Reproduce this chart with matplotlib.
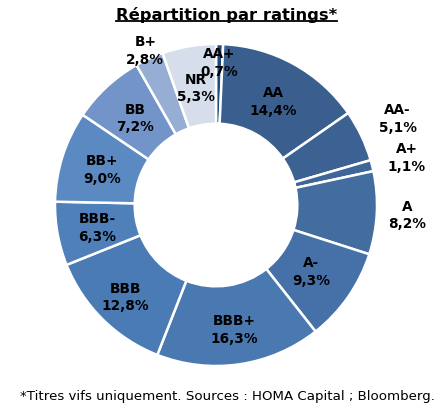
import matplotlib.pyplot as plt
import numpy as np

ratings = ['AA+', 'AA', 'AA-', 'A+', 'A', 'A-', 'BBB+', 'BBB', 'BBB-', 'BB+', 'BB', 'B+', 'NR']
shares = [0.7, 14.4, 5.1, 1.1, 8.2, 9.3, 16.3, 12.8, 6.3, 9.0, 7.2, 2.8, 5.3]

colors = ['#1f4a7c', '#3a5f8f', '#3c6293', '#3f6698', '#436c9f', '#4671a8', '#4a78b0',
          '#4b7bb5', '#4f80ba', '#5b89c1', '#7294c8', '#97aed4', '#d6deeb']
# radial position of each label (1 = outer edge)
label_r = [0.89, 0.74, 1.25, 1.22, 1.19, 0.72, 0.78, 0.80, 0.75, 0.74, 0.74, 1.06, 0.74]

plt.rcParams['font.family'] = ['DejaVu Sans']

fig = plt.figure(figsize=(4.46, 4.14), dpi=100)
R = 161
ax = fig.add_axes([(216 - R) / 446, (414 - 206 - R) / 414, 2 * R / 446, 2 * R / 414])

wedges, _ = ax.pie(shares, colors=colors, startangle=90, counterclock=False,
                   radius=1, wedgeprops=dict(width=0.495, edgecolor='white', linewidth=1.8))
ax.set_xlim(-1, 1)
ax.set_ylim(-1, 1)
ax.set_aspect('equal')
ax.axis('off')

for w, name, v, r in zip(wedges, ratings, shares, label_r):
    ang = np.deg2rad((w.theta1 + w.theta2) / 2)
    ax.text(r * np.cos(ang), r * np.sin(ang), name + '\n' + f'{v:.1f}'.replace('.', ',') + '%',
            ha='center', va='center', fontsize=9.8, fontweight='bold', linespacing=1.35)

title = fig.text(0.508, 1 - 15 / 414, 'Répartition par ratings*', ha='center', va='center',
                 fontsize=11.8, fontweight='bold')
fig.canvas.draw()
bb = title.get_window_extent().transformed(fig.transFigure.inverted())
fig.add_artist(plt.Line2D([bb.x0, bb.x1], [bb.y0 + 0.002, bb.y0 + 0.002],
                          transform=fig.transFigure, color='black', linewidth=1.3))

fig.text(0.51, 1 - 397 / 414, '*Titres vifs uniquement. Sources : HOMA Capital ; Bloomberg.',
         ha='center', va='center', fontsize=9.6)

fig.savefig('out.png', dpi=100)
